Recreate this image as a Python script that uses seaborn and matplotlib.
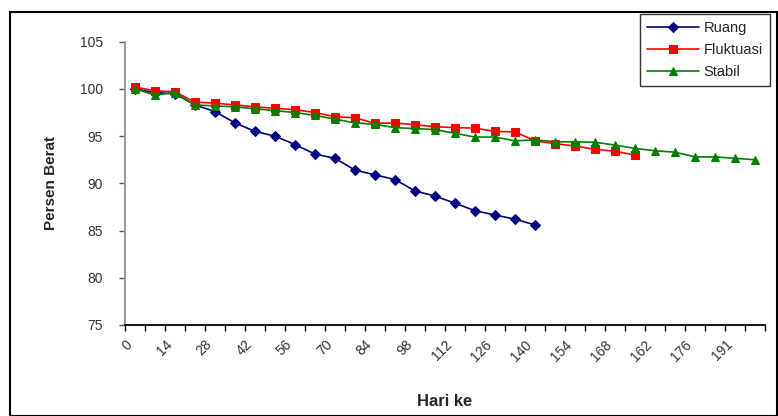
import numpy as np
import pandas as pd
import matplotlib
matplotlib.use("Agg")
import matplotlib.pyplot as plt
import seaborn as sns
from matplotlib.patches import Rectangle

# ---- data ----
tick_labels = ["0", "14", "28", "42", "56", "70", "84", "98", "112", "126",
               "140", "154", "168", "162", "176", "191"]
n_categories = 32

ruang = [100.0, 99.6, 99.5, 98.3, 97.6, 96.4, 95.5, 95.0, 94.1, 93.1,
         92.65, 91.4, 90.9, 90.4, 89.2, 88.65, 87.9, 87.1, 86.65, 86.2, 85.6]
fluktuasi = [100.2, 99.8, 99.7, 98.6, 98.5, 98.3, 98.1, 97.95, 97.8, 97.5,
             97.05, 96.95, 96.35, 96.4, 96.2, 96.0, 95.9, 95.85, 95.5, 95.45,
             94.5, 94.2, 93.95, 93.6, 93.4, 93.0]
stabil = [100.0, 99.35, 99.6, 98.3, 98.2, 98.1, 97.9, 97.7, 97.5, 97.2,
          96.8, 96.4, 96.25, 95.9, 95.8, 95.7, 95.3, 94.9, 94.9, 94.5,
          94.6, 94.4, 94.4, 94.35, 94.05, 93.7, 93.45, 93.3, 92.8, 92.8,
          92.65, 92.5]

series_names = ["Ruang", "Fluktuasi", "Stabil"]
series_vals = [ruang, fluktuasi, stabil]
colors = {"Ruang": "#000080", "Fluktuasi": "#FF0000", "Stabil": "#008000"}
markers = {"Ruang": "D", "Fluktuasi": "s", "Stabil": "^"}

rows = []
for name, vals in zip(series_names, series_vals):
    for i, v in enumerate(vals):
        rows.append({"idx": i, "val": v, "seri": name})
df = pd.DataFrame(rows)

sns.set_theme(style="white")
plt.rcParams["font.family"] = ["Liberation Sans", "DejaVu Sans"]

fig = plt.figure(figsize=(7.78, 4.16), dpi=100)
ax = fig.add_axes([125 / 778, 1 - 325 / 416, 640 / 778, (325 - 41.7) / 416])

for name in series_names:
    sub = df[df["seri"] == name]
    sns.lineplot(data=sub, x="idx", y="val", ax=ax, color=colors[name],
                 marker=markers[name], markersize=6 if name != "Ruang" else 5,
                 markeredgecolor=colors[name], linewidth=1.2, label=name,
                 estimator=None, sort=False)

ax.set_xlim(-0.5, n_categories - 0.5)
ax.set_ylim(75, 105)
ax.set_yticks(np.arange(75, 106, 5))
ax.set_yticklabels([str(v) for v in range(75, 106, 5)], fontsize=10, color="#333333")

# labels sit at the category boundaries (every second boundary)
ax.set_xticks(np.arange(-0.5, n_categories - 0.5, 2))
ax.set_xticklabels(tick_labels, rotation=45, ha="right", rotation_mode="anchor",
                   fontsize=10, color="#333333")
ax.set_xticks(np.arange(-0.5, n_categories, 1), minor=True)
ax.tick_params(axis="x", which="major", length=4, width=1, color="black",
               direction="out", pad=5)
ax.tick_params(axis="x", which="minor", length=4, width=1, color="black", direction="out")
ax.tick_params(axis="y", which="major", length=4, width=1, color="#555555", direction="out", pad=12)
ax.tick_params(bottom=True, left=True, which="both")

for s in ["top", "right"]:
    ax.spines[s].set_visible(False)
ax.spines["left"].set_color("#999999")
ax.spines["left"].set_linewidth(1.5)
ax.spines["bottom"].set_color("black")
ax.spines["bottom"].set_linewidth(1.3)

ax.set_xlabel("")
ax.set_ylabel("")
fig.text(51 / 778, 1 - 183 / 416, "Persen Berat", rotation=90, ha="center", va="center",
         fontsize=11, fontweight="bold")
fig.text(445 / 778, 1 - 402 / 416, "Hari ke", ha="center", va="center",
         fontsize=12, fontweight="bold")

ax.get_legend().remove()
handles, labels = ax.get_legend_handles_labels()
leg = fig.legend(handles, labels, loc="upper right",
                 bbox_to_anchor=(771 / 778, 1 - 13 / 416), frameon=True,
                 fancybox=False, shadow=False, fontsize=10.5, handlelength=3.6,
                 borderpad=0.45, labelspacing=0.55, handletextpad=0.3,
                 borderaxespad=0.1)
leg.get_frame().set_edgecolor("black")
leg.get_frame().set_linewidth(1.0)

fig.patches.append(Rectangle((10 / 778, 0), 767 / 778, 1 - 12 / 416,
                             transform=fig.transFigure, fill=False,
                             edgecolor="black", linewidth=1.5))

fig.savefig("out.png", dpi=100)
